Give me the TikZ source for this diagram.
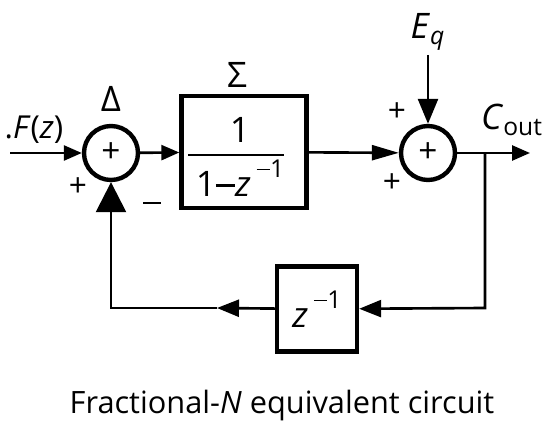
\documentclass[tikz,border=0pt]{standalone}
\usepackage{fontspec}
\setmainfont{Open Sans}
\usetikzlibrary{arrows.meta,positioning}
\newcommand{\mns}{\rule[0.27em]{0.55em}{0.075em}}
\newcommand{\zinv}{\textit{z}\,\raisebox{0.55em}{\fontsize{14}{14}\selectfont \mns1}}
\tikzset{
  smalltip/.style={-{Triangle[length=3.6mm,width=3mm]}},
  midtip/.style={-{Triangle[length=4.4mm,width=3.4mm]}},
  longtip/.style={-{Triangle[length=5.4mm,width=3mm]}},
  downtip/.style={-{Triangle[length=5mm,width=4mm]}},
  bigtip/.style={-{Triangle[length=6mm,width=6mm]}},
  sumnode/.style={circle,draw,line width=2.5pt,minimum size=1.08cm,inner sep=0pt,
    font=\fontsize{19}{19}\selectfont},
  blockbox/.style={draw,line width=2.5pt,inner sep=0pt},
  wire/.style={line width=1.5pt},
  lbl/.style={font=\fontsize{18}{18}\selectfont},
  biglbl/.style={font=\fontsize{20}{20}\selectfont},
  sgn/.style={font=\fontsize{18}{18}\selectfont},
}
\begin{document}
\begin{tikzpicture}[x=0.02cm,y=-0.02cm]
  \useasboundingbox (0,0) rectangle (545,439);
  % summing junctions
  \node[sumnode] (dl) at (111,153) {+};
  \node[sumnode] (ad) at (428,153) {+};
  \node[biglbl] (dllbl) at (111,99) {Δ};
  \node[lbl] (fin) at (34,130) {.\textit{F}(\textit{z})};
  \coordinate (src) at (10,153);
  % accumulator
  \node[blockbox,minimum width=2.5cm,minimum height=2.24cm] (acc) at (244,152) {};
  \node[biglbl] (acclbl) at (237,75) {Σ};
  \node[biglbl] (num) at (240,130) {1};
  \node[biglbl] (den) at (240,178) {1\mns\zinv};
  \draw[line width=1pt] ([xshift=5pt]acc.west |- 0,155) -- ([xshift=-14pt]acc.east |- 0,155);
  % quantization error and output
  \node[biglbl] (eq) at (428,32) {\textit{E}\textsubscript{\textit{q}}};
  \coordinate (eqin) at (428,55);
  \node[biglbl] (cout) at (512,120) {\textit{C}\textsubscript{out}};
  \coordinate (outp) at (530,153);
  \coordinate (tap) at (485,153);
  \coordinate (tapdn) at (485,308);
  % delay in the feedback path
  \node[blockbox,minimum width=1.6cm,minimum height=1.7cm,biglbl] (dly) at (317,309) {\zinv};
  \coordinate (fbmid) at (217,308);
  \coordinate (fbcorner) at (111,308);
  % signs
  \node[sgn] (p1) at (78,187) {+};
  \node[sgn] (m1) at (152,207) {\mns};
  \node[sgn] (p2) at (397,112) {+};
  \node[sgn] (p3) at (392,183) {+};
  % connectors
  \draw[wire,smalltip] (src) -- (dl);
  \draw[wire,smalltip] (dl) -- (acc);
  \draw[wire,longtip] (acc) -- (ad);
  \draw[wire,downtip] (eqin) -- (ad);
  \draw[wire,smalltip] (ad) -- (outp);
  \draw[wire,midtip] (tap) -- (tapdn) -- (dly);
  \draw[wire,midtip] (dly) -- (fbmid);
  \draw[wire,bigtip] (fbmid) -- (fbcorner) -- (dl);
  % caption
  \node[font=\fontsize{17.5}{17.5}\selectfont] (cap) at (282,406) {Fractional-\textit{N} equivalent circuit};
\end{tikzpicture}
\end{document}
